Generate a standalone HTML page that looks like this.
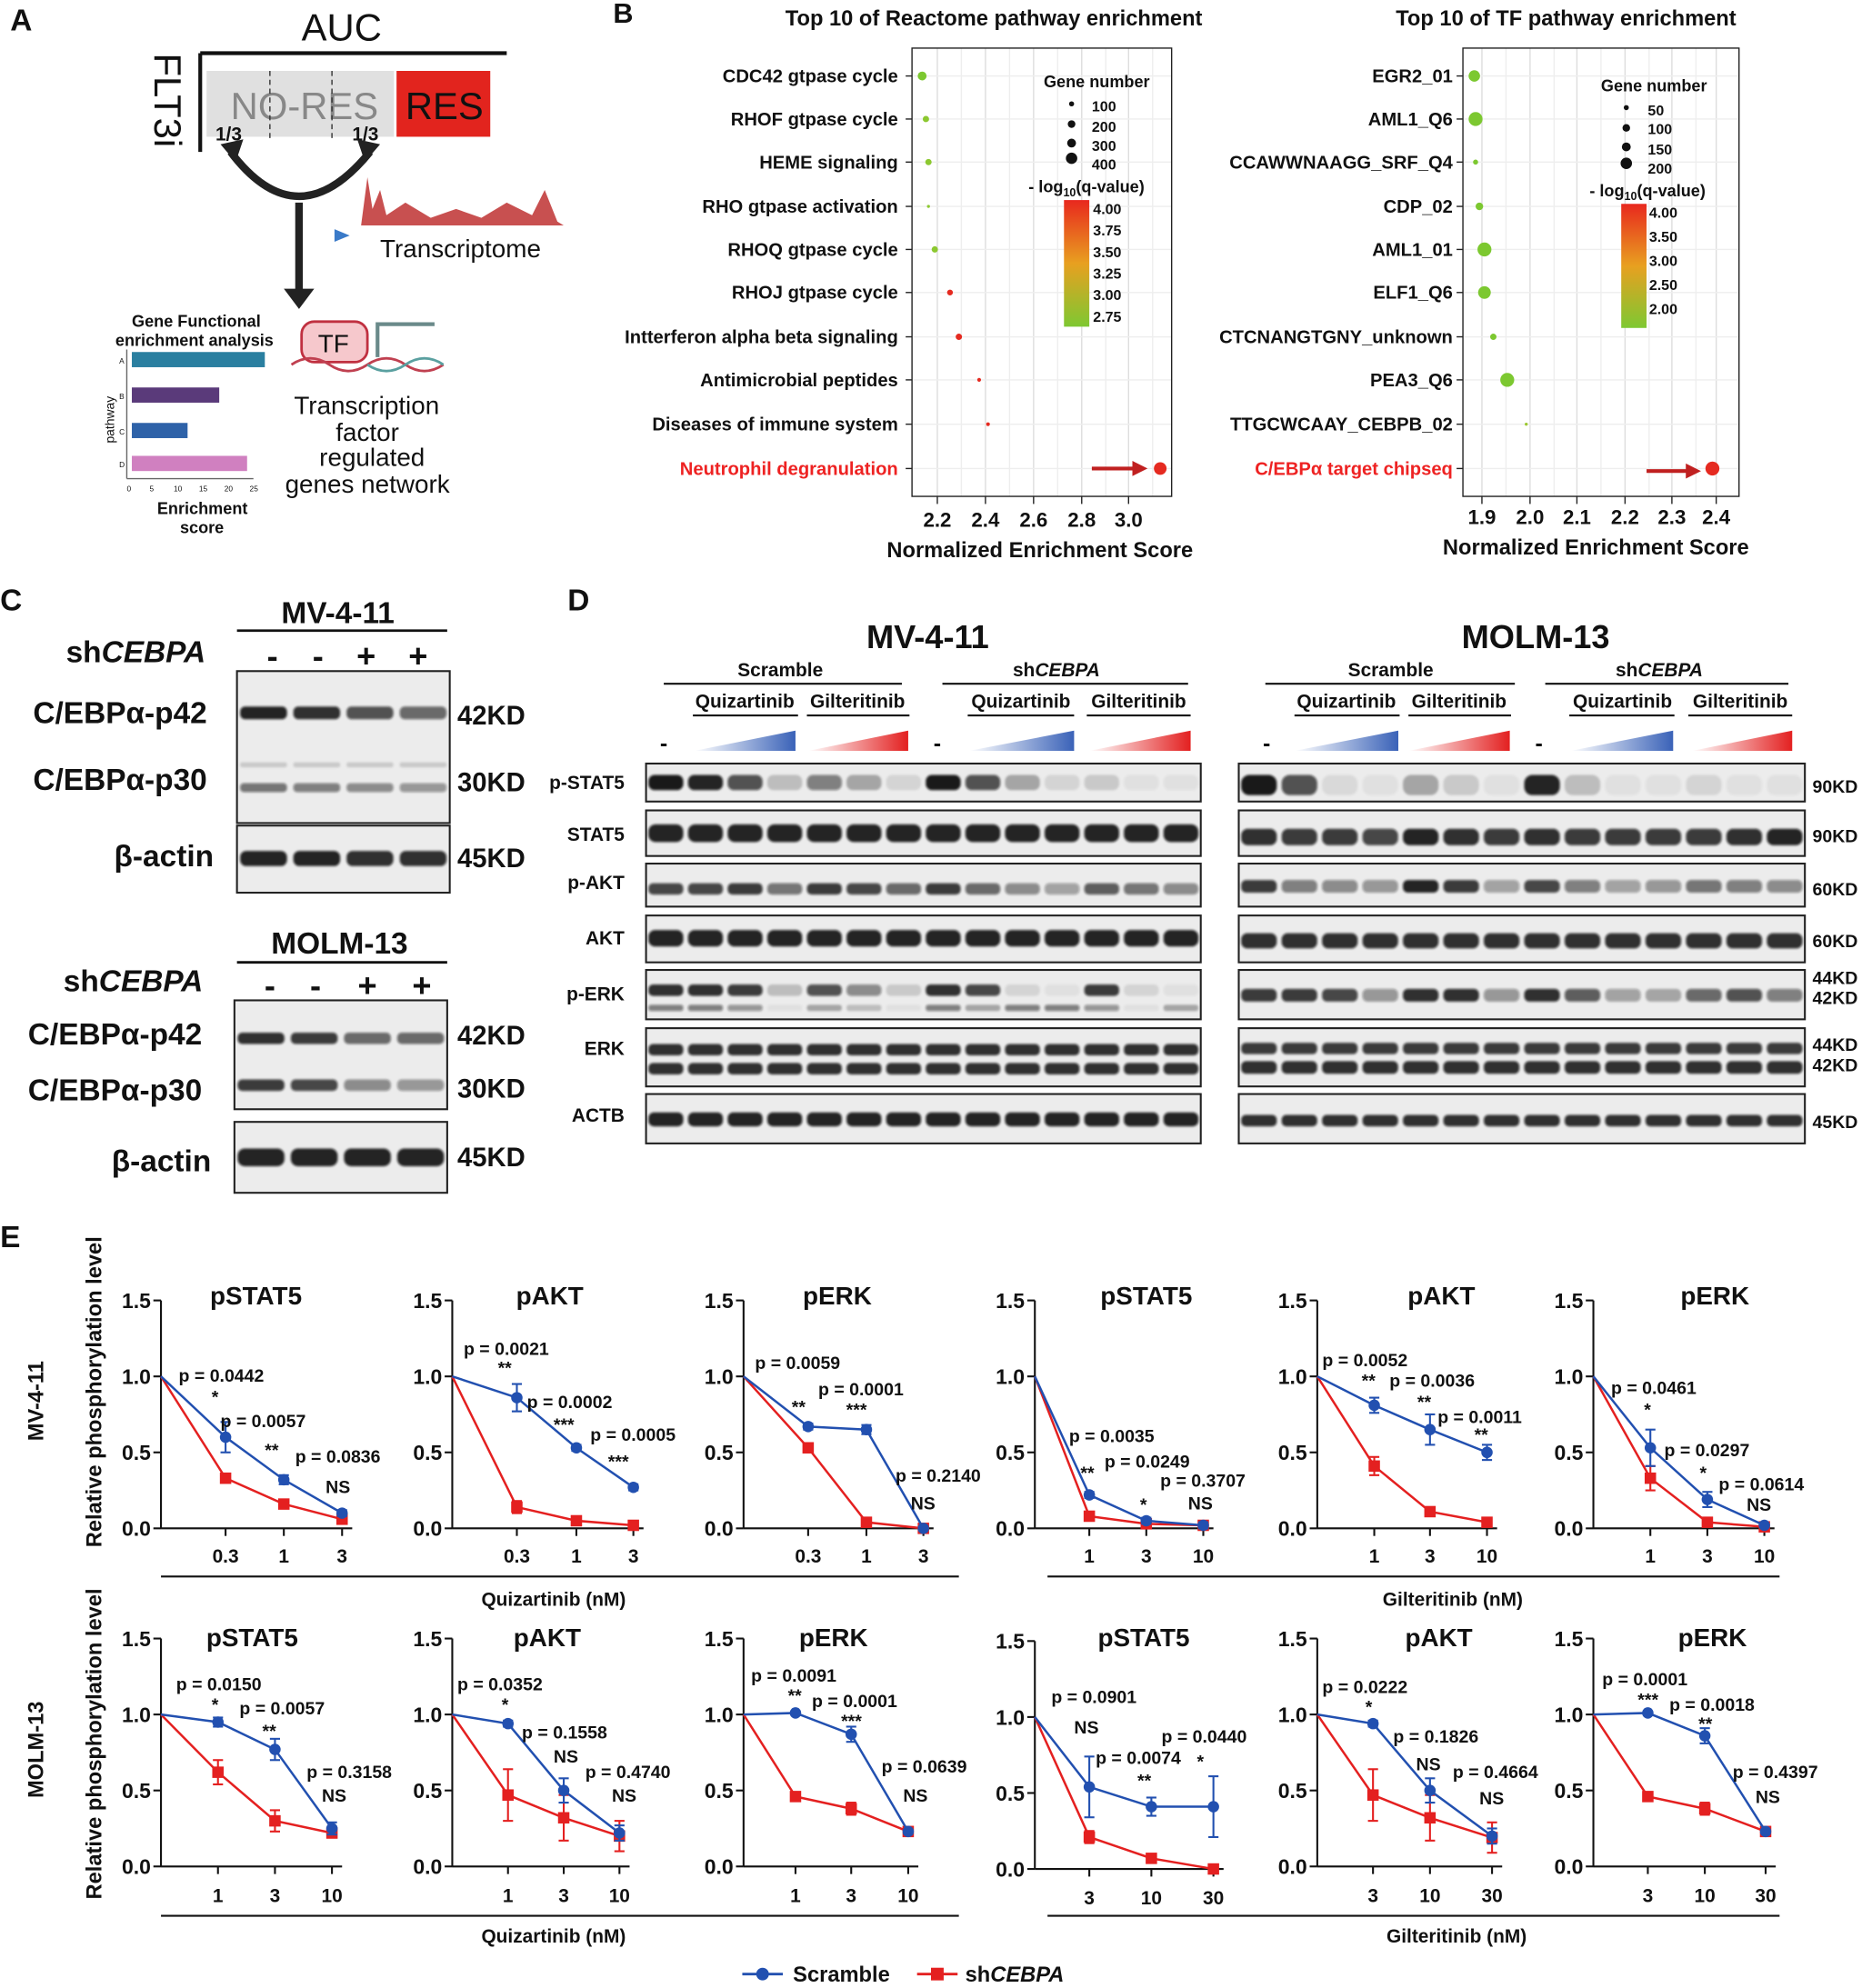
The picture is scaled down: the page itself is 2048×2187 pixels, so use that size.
<!DOCTYPE html>
<html><head><meta charset="utf-8">
<style>
html,body{margin:0;padding:0;background:#fff}
svg{display:block}
text{font-family:"Liberation Sans",Arial,sans-serif;fill:#111}
.b{font-weight:bold}
</style></head><body>
<svg id="s" xmlns="http://www.w3.org/2000/svg" width="2048" height="2187" viewBox="0 0 1470 1570">
<defs>
<linearGradient id="cg" x1="0" y1="0" x2="0" y2="1"><stop offset="0" stop-color="#e8281e"/><stop offset="0.5" stop-color="#e8a020"/><stop offset="1" stop-color="#7ec832"/></linearGradient>
<linearGradient id="blu" x1="0" x2="1"><stop offset="0" stop-color="#fff"/><stop offset="1" stop-color="#3a62b8"/></linearGradient>
<linearGradient id="red" x1="0" x2="1"><stop offset="0" stop-color="#fff"/><stop offset="1" stop-color="#e32020"/></linearGradient>
<filter id="bl" x="-10%" y="-50%" width="120%" height="200%"><feGaussianBlur stdDeviation="0.9"/></filter>
</defs>
<g id="g"></g>
<!-- Panel letters -->
<text x="8" y="24" font-size="24" class="b">A</text>
<text x="484" y="18" font-size="22" class="b">B</text>
<text x="0" y="482" font-size="24" class="b">C</text>
<text x="448" y="482" font-size="24" class="b">D</text>
<text x="0" y="985" font-size="24" class="b">E</text>

<!-- Panel A -->
<text x="238" y="32" font-size="30">AUC</text>
<line x1="158" y1="42" x2="400" y2="42" stroke="#111" stroke-width="3"/>
<line x1="158" y1="42" x2="158" y2="120" stroke="#111" stroke-width="3"/>
<text x="122" y="42" font-size="30" transform="rotate(90 122 42)">FLT3i</text>
<rect x="163" y="56" width="148" height="52" fill="#e0e0e0"/>
<rect x="313" y="56" width="74" height="52" fill="#e2241e"/>
<text x="182" y="94" font-size="30" style="fill:#888">NO-RES</text>
<text x="320" y="94" font-size="30">RES</text>
<line x1="213" y1="56" x2="213" y2="110" stroke="#333" stroke-dasharray="4,3"/>
<line x1="262" y1="56" x2="262" y2="110" stroke="#333" stroke-dasharray="4,3"/>
<text x="170" y="111" font-size="15" class="b">1/3</text>
<text x="278" y="111" font-size="15" class="b">1/3</text>
<path d="M182 120 Q235 190 292 120" fill="none" stroke="#222" stroke-width="6"/>
<path d="M174 114 l18 -4 l-6 18z M300 114 l-18 -4 l6 18z" fill="#222"/>
<line x1="236" y1="160" x2="236" y2="232" stroke="#222" stroke-width="6"/>
<path d="M224 228 l24 0 l-12 16z" fill="#222"/>
<path d="M285 178 L290 140 L294 165 L300 150 L305 170 L320 160 L340 172 L360 165 L380 172 L400 160 L420 170 L430 150 L440 175 L445 178 Z" fill="#c85050"/>
<path d="M276 186 l-12 -5 l0 10z" fill="#3a7ac8"/>
<text x="300" y="203" font-size="20">Transcriptome</text>
<text x="104" y="258" font-size="13" class="b">Gene Functional</text>
<text x="91" y="273" font-size="13" class="b">enrichment analysis</text>
<line x1="100" y1="276" x2="100" y2="378" stroke="#666"/>
<line x1="100" y1="378" x2="200" y2="378" stroke="#666"/>
<rect x="104" y="278" width="105" height="12" fill="#2a7fa0"/>
<rect x="104" y="306" width="69" height="12" fill="#5a3a7a"/>
<rect x="104" y="334" width="44" height="12" fill="#2e62a8"/>
<rect x="104" y="360" width="91" height="12" fill="#d080c0"/>
<g font-size="6" style="fill:#666"><text x="94" y="287">A</text><text x="94" y="315">B</text><text x="94" y="343">C</text><text x="94" y="369">D</text>
<text x="100" y="388">0</text><text x="118" y="388">5</text><text x="137" y="388">10</text><text x="157" y="388">15</text><text x="177" y="388">20</text><text x="197" y="388">25</text></g>
<text x="90" y="350" font-size="10" transform="rotate(-90 90 350)">pathway</text>
<text x="124" y="406" font-size="13" class="b">Enrichment</text>
<text x="142" y="421" font-size="13" class="b">score</text>
<rect x="238" y="254" width="52" height="32" rx="10" fill="#f6c8cc" stroke="#c03040" stroke-width="2"/>
<text x="251" y="278" font-size="20">TF</text>
<path d="M230 288 q15 -10 30 0 t30 0 t30 0 t30 0" fill="none" stroke="#c04050" stroke-width="2"/>
<path d="M290 288 q15 10 30 0 t30 0" fill="none" stroke="#5aa0a0" stroke-width="2"/>
<path d="M298 282 l0 -26 l45 0" fill="none" stroke="#6a8a8a" stroke-width="3"/>
<text x="232" y="327" font-size="20">Transcription</text>
<text x="265" y="348" font-size="20">factor</text>
<text x="252" y="368" font-size="20">regulated</text>
<text x="225" y="389" font-size="20">genes network</text>

<!-- Panel B left -->
<text x="620" y="20" font-size="17" class="b">Top 10 of Reactome pathway enrichment</text>
<rect x="720" y="38" width="205" height="354" fill="none" stroke="#222"/>
<g font-size="14.5" class="b" text-anchor="end">
<text x="709" y="65">CDC42 gtpase cycle</text>
<text x="709" y="99">RHOF gtpase cycle</text>
<text x="709" y="133">HEME signaling</text>
<text x="709" y="168">RHO gtpase activation</text>
<text x="709" y="202">RHOQ gtpase cycle</text>
<text x="709" y="236">RHOJ gtpase cycle</text>
<text x="709" y="271">Intterferon alpha beta signaling</text>
<text x="709" y="305">Antimicrobial peptides</text>
<text x="709" y="340">Diseases of immune system</text>
<text x="709" y="375" style="fill:#e22">Neutrophil degranulation</text>
</g>
<g font-size="16" class="b" text-anchor="middle">
<text x="740" y="416">2.2</text><text x="778" y="416">2.4</text><text x="816" y="416">2.6</text><text x="854" y="416">2.8</text><text x="891" y="416">3.0</text>
</g>
<text x="821" y="440" font-size="17" class="b" text-anchor="middle">Normalized Enrichment Score</text>
<text x="824" y="69" font-size="13" class="b">Gene number</text>
<g font-size="11.5" class="b"><text x="862" y="88">100</text><text x="862" y="104">200</text><text x="862" y="119">300</text><text x="862" y="134">400</text></g>
<text x="812" y="152" font-size="13" class="b">- log<tspan font-size="9" dy="3">10</tspan><tspan dy="-3">(q-value)</tspan></text>
<rect x="840" y="158" width="20" height="100" fill="url(#cg)"/>
<g font-size="11.5" class="b"><text x="863" y="169">4.00</text><text x="863" y="186">3.75</text><text x="863" y="203">3.50</text><text x="863" y="220">3.25</text><text x="863" y="237">3.00</text><text x="863" y="254">2.75</text></g>

<!-- Panel B right -->
<text x="1102" y="20" font-size="17" class="b">Top 10 of TF pathway enrichment</text>
<rect x="1155" y="38" width="218" height="354" fill="none" stroke="#222"/>
<g font-size="14.5" class="b" text-anchor="end">
<text x="1147" y="65">EGR2_01</text>
<text x="1147" y="99">AML1_Q6</text>
<text x="1147" y="133">CCAWWNAAGG_SRF_Q4</text>
<text x="1147" y="168">CDP_02</text>
<text x="1147" y="202">AML1_01</text>
<text x="1147" y="236">ELF1_Q6</text>
<text x="1147" y="271">CTCNANGTGNY_unknown</text>
<text x="1147" y="305">PEA3_Q6</text>
<text x="1147" y="340">TTGCWCAAY_CEBPB_02</text>
<text x="1147" y="375" style="fill:#e22">C/EBPα target chipseq</text>
</g>
<g font-size="16" class="b" text-anchor="middle">
<text x="1170" y="414">1.9</text><text x="1208" y="414">2.0</text><text x="1245" y="414">2.1</text><text x="1283" y="414">2.2</text><text x="1320" y="414">2.3</text><text x="1355" y="414">2.4</text>
</g>
<text x="1260" y="438" font-size="17" class="b" text-anchor="middle">Normalized Enrichment Score</text>
<text x="1264" y="72" font-size="13" class="b">Gene number</text>
<g font-size="11.5" class="b"><text x="1301" y="91">50</text><text x="1301" y="106">100</text><text x="1301" y="122">150</text><text x="1301" y="137">200</text></g>
<text x="1255" y="155" font-size="13" class="b">- log<tspan font-size="9" dy="3">10</tspan><tspan dy="-3">(q-value)</tspan></text>
<rect x="1280" y="161" width="20" height="98" fill="url(#cg)"/>
<g font-size="11.5" class="b"><text x="1302" y="172">4.00</text><text x="1302" y="191">3.50</text><text x="1302" y="210">3.00</text><text x="1302" y="229">2.50</text><text x="1302" y="248">2.00</text></g>

<!-- Panel C -->
<text x="222" y="492" font-size="24" class="b">MV-4-11</text>
<line x1="187" y1="498" x2="353" y2="498" stroke="#111" stroke-width="2"/>
<text x="52" y="523" font-size="24" class="b">sh<tspan font-style="italic">CEBPA</tspan></text>
<g font-size="26" class="b" text-anchor="middle"><text x="215" y="527">-</text><text x="251" y="527">-</text><text x="289" y="527">+</text><text x="330" y="527">+</text></g>
<text x="26" y="571" font-size="24" class="b">C/EBPα-p42</text>
<text x="26" y="624" font-size="24" class="b">C/EBPα-p30</text>
<text x="90" y="684" font-size="24" class="b">β-actin</text>
<g font-size="21" class="b"><text x="361" y="572">42KD</text><text x="361" y="625">30KD</text><text x="361" y="685">45KD</text>
<text x="361" y="825">42KD</text><text x="361" y="867">30KD</text><text x="361" y="921">45KD</text></g>
<text x="214" y="753" font-size="24" class="b">MOLM-13</text>
<line x1="187" y1="760" x2="353" y2="760" stroke="#111" stroke-width="2"/>
<text x="50" y="783" font-size="24" class="b">sh<tspan font-style="italic">CEBPA</tspan></text>
<g font-size="26" class="b" text-anchor="middle"><text x="213" y="787">-</text><text x="249" y="787">-</text><text x="290" y="787">+</text><text x="333" y="787">+</text></g>
<text x="22" y="825" font-size="24" class="b">C/EBPα-p42</text>
<text x="22" y="869" font-size="24" class="b">C/EBPα-p30</text>
<text x="88" y="925" font-size="24" class="b">β-actin</text>

<!-- Panel D -->
<text x="684" y="512" font-size="26" class="b">MV-4-11</text>
<text x="1154" y="512" font-size="26" class="b">MOLM-13</text>
<g font-size="15" class="b" text-anchor="middle">
<text x="616" y="534">Scramble</text><text x="834" y="534">sh<tspan font-style="italic">CEBPA</tspan></text>
<text x="588" y="559">Quizartinib</text><text x="677" y="559">Gilteritinib</text>
<text x="806" y="559">Quizartinib</text><text x="899" y="559">Gilteritinib</text>
<text x="1098" y="534">Scramble</text><text x="1310" y="534">sh<tspan font-style="italic">CEBPA</tspan></text>
<text x="1063" y="559">Quizartinib</text><text x="1152" y="559">Gilteritinib</text>
<text x="1281" y="559">Quizartinib</text><text x="1374" y="559">Gilteritinib</text>
</g>
<g stroke="#111" stroke-width="1.5">
<line x1="524" y1="540" x2="712" y2="540"/><line x1="744" y1="540" x2="938" y2="540"/>
<line x1="547" y1="565" x2="630" y2="565"/><line x1="637" y1="565" x2="718" y2="565"/>
<line x1="764" y1="565" x2="848" y2="565"/><line x1="858" y1="565" x2="940" y2="565"/>
<line x1="999" y1="540" x2="1196" y2="540"/><line x1="1220" y1="540" x2="1412" y2="540"/>
<line x1="1022" y1="565" x2="1105" y2="565"/><line x1="1112" y1="565" x2="1193" y2="565"/>
<line x1="1239" y1="565" x2="1322" y2="565"/><line x1="1333" y1="565" x2="1415" y2="565"/>
</g>
<g fill="#111" font-size="18" class="b" text-anchor="middle"><text x="524" y="593">-</text><text x="740" y="593">-</text><text x="1000" y="593">-</text><text x="1215" y="593">-</text></g>
<polygon points="548,593 628,577 628,593" fill="url(#blu)"/>
<polygon points="638,593 717,577 717,593" fill="url(#red)"/>
<polygon points="765,593 848,577 848,593" fill="url(#blu)"/>
<polygon points="860,593 940,577 940,593" fill="url(#red)"/>
<polygon points="1022,593 1104,577 1104,593" fill="url(#blu)"/>
<polygon points="1112,593 1192,577 1192,593" fill="url(#red)"/>
<polygon points="1240,593 1321,577 1321,593" fill="url(#blu)"/>
<polygon points="1336,593 1415,577 1415,593" fill="url(#red)"/>
<g font-size="15" class="b" text-anchor="end">
<text x="493" y="623">p-STAT5</text><text x="493" y="664">STAT5</text><text x="493" y="702">p-AKT</text>
<text x="493" y="746">AKT</text><text x="493" y="790">p-ERK</text><text x="493" y="833">ERK</text><text x="493" y="886">ACTB</text>
</g>
<g font-size="14" class="b">
<text x="1431" y="626">90KD</text><text x="1431" y="665">90KD</text><text x="1431" y="707">60KD</text><text x="1431" y="748">60KD</text>
<text x="1431" y="777">44KD</text><text x="1431" y="793">42KD</text><text x="1431" y="830">44KD</text><text x="1431" y="846">42KD</text><text x="1431" y="891">45KD</text>
</g>

<!-- Panel E text -->
<text x="80" y="1222" font-size="17" class="b" transform="rotate(-90 80 1222)">Relative  phosphorylation level</text>
<text x="80" y="1500" font-size="17" class="b" transform="rotate(-90 80 1500)">Relative  phosphorylation level</text>
<text x="34" y="1138" font-size="17" class="b" transform="rotate(-90 34 1138)">MV-4-11</text>
<text x="34" y="1420" font-size="17" class="b" transform="rotate(-90 34 1420)">MOLM-13</text>
<g font-size="15" class="b" text-anchor="middle">
<text x="437" y="1268">Quizartinib (nM)</text><text x="1147" y="1268">Gilteritinib (nM)</text>
<text x="437" y="1534">Quizartinib (nM)</text><text x="1150" y="1534">Gilteritinib (nM)</text>
</g>
<g stroke="#111" stroke-width="1.5"><line x1="127" y1="1245" x2="757" y2="1245"/><line x1="827" y1="1245" x2="1405" y2="1245"/>
<line x1="127" y1="1513" x2="757" y2="1513"/><line x1="827" y1="1513" x2="1405" y2="1513"/></g>
<g font-size="20" class="b" text-anchor="middle">
<text x="202" y="1030">pSTAT5</text><text x="434" y="1030">pAKT</text><text x="661" y="1030">pERK</text>
<text x="905" y="1030">pSTAT5</text><text x="1138" y="1030">pAKT</text><text x="1354" y="1030">pERK</text>
<text x="199" y="1300">pSTAT5</text><text x="432" y="1300">pAKT</text><text x="658" y="1300">pERK</text>
<text x="903" y="1300">pSTAT5</text><text x="1136" y="1300">pAKT</text><text x="1352" y="1300">pERK</text>
</g>
<g font-size="16.5" class="b" text-anchor="end" id="ylab"></g>
<g font-size="15" class="b" text-anchor="middle">
<text x="178" y="1234">0.3</text><text x="224" y="1234">1</text><text x="270" y="1234">3</text>
<text x="408" y="1234">0.3</text><text x="455" y="1234">1</text><text x="500" y="1234">3</text>
<text x="638" y="1234">0.3</text><text x="684" y="1234">1</text><text x="729" y="1234">3</text>
<text x="860" y="1234">1</text><text x="905" y="1234">3</text><text x="950" y="1234">10</text>
<text x="1085" y="1234">1</text><text x="1129" y="1234">3</text><text x="1174" y="1234">10</text>
<text x="1303" y="1234">1</text><text x="1348" y="1234">3</text><text x="1393" y="1234">10</text>
<text x="172" y="1502">1</text><text x="217" y="1502">3</text><text x="262" y="1502">10</text>
<text x="401" y="1502">1</text><text x="445" y="1502">3</text><text x="489" y="1502">10</text>
<text x="628" y="1502">1</text><text x="672" y="1502">3</text><text x="717" y="1502">10</text>
<text x="860" y="1504">3</text><text x="909" y="1504">10</text><text x="958" y="1504">30</text>
<text x="1084" y="1502">3</text><text x="1129" y="1502">10</text><text x="1178" y="1502">30</text>
<text x="1301" y="1502">3</text><text x="1346" y="1502">10</text><text x="1394" y="1502">30</text>
</g>
<g font-size="14" class="b">
<text x="141" y="1091">p = 0.0442</text><text x="167" y="1108">*</text><text x="174" y="1127">p = 0.0057</text><text x="209" y="1150">**</text><text x="233" y="1155">p = 0.0836</text><text x="257" y="1179">NS</text>
<text x="366" y="1070">p = 0.0021</text><text x="393" y="1085">**</text><text x="416" y="1112">p = 0.0002</text><text x="437" y="1130">***</text><text x="466" y="1138">p = 0.0005</text><text x="480" y="1159">***</text>
<text x="596" y="1081">p = 0.0059</text><text x="625" y="1116">**</text><text x="646" y="1102">p = 0.0001</text><text x="668" y="1118">***</text><text x="707" y="1170">p = 0.2140</text><text x="719" y="1192">NS</text>
<text x="844" y="1139">p = 0.0035</text><text x="853" y="1168">**</text><text x="872" y="1159">p = 0.0249</text><text x="900" y="1193">*</text><text x="916" y="1174">p = 0.3707</text><text x="938" y="1192">NS</text>
<text x="1044" y="1079">p = 0.0052</text><text x="1075" y="1095">**</text><text x="1097" y="1095">p = 0.0036</text><text x="1119" y="1112">**</text><text x="1135" y="1124">p = 0.0011</text><text x="1164" y="1138">**</text>
<text x="1272" y="1101">p = 0.0461</text><text x="1298" y="1118">*</text><text x="1314" y="1150">p = 0.0297</text><text x="1342" y="1168">*</text><text x="1357" y="1177">p = 0.0614</text><text x="1379" y="1193">NS</text>
<text x="139" y="1335">p = 0.0150</text><text x="167" y="1351">*</text><text x="189" y="1354">p = 0.0057</text><text x="207" y="1372">**</text><text x="242" y="1404">p = 0.3158</text><text x="254" y="1423">NS</text>
<text x="361" y="1335">p = 0.0352</text><text x="396" y="1351">*</text><text x="412" y="1373">p = 0.1558</text><text x="437" y="1392">NS</text><text x="462" y="1404">p = 0.4740</text><text x="483" y="1423">NS</text>
<text x="593" y="1328">p = 0.0091</text><text x="622" y="1344">**</text><text x="641" y="1348">p = 0.0001</text><text x="664" y="1364">***</text><text x="696" y="1400">p = 0.0639</text><text x="713" y="1423">NS</text>
<text x="830" y="1345">p = 0.0901</text><text x="848" y="1369">NS</text><text x="865" y="1393">p = 0.0074</text><text x="898" y="1411">**</text><text x="917" y="1376">p = 0.0440</text><text x="945" y="1396">*</text>
<text x="1044" y="1337">p = 0.0222</text><text x="1078" y="1353">*</text><text x="1100" y="1376">p = 0.1826</text><text x="1118" y="1398">NS</text><text x="1147" y="1404">p = 0.4664</text><text x="1168" y="1425">NS</text>
<text x="1265" y="1331">p = 0.0001</text><text x="1293" y="1347">***</text><text x="1318" y="1351">p = 0.0018</text><text x="1341" y="1366">**</text><text x="1368" y="1404">p = 0.4397</text><text x="1386" y="1424">NS</text>
</g>
<line x1="586" y1="1559" x2="618" y2="1559" stroke="#2250b0" stroke-width="2"/><circle cx="602" cy="1559" r="5" fill="#2250b0"/>
<text x="626" y="1565" font-size="17" class="b">Scramble</text>
<line x1="724" y1="1559" x2="756" y2="1559" stroke="#e42020" stroke-width="2"/><rect x="735" y="1554" width="10" height="10" fill="#e42020"/>
<text x="762" y="1565" font-size="17" class="b">sh<tspan font-style="italic">CEBPA</tspan></text>
</svg>
<script>
(function(){
var NS="http://www.w3.org/2000/svg",g=document.getElementById("g");
function el(t,a,p){var e=document.createElementNS(NS,t);for(var k in a)e.setAttribute(k,a[k]);(p||g).appendChild(e);return e;}
function bp(x0,x1,ticks,xs,sizes,cols){
  var st=ticks[1]-ticks[0];
  for(var i=0;i<ticks.length;i++){el("line",{x1:ticks[i],y1:38,x2:ticks[i],y2:392,stroke:"#ddd"});
   if(ticks[i]+st/2<x1)el("line",{x1:ticks[i]+st/2,y1:38,x2:ticks[i]+st/2,y2:392,stroke:"#eee"});
   el("line",{x1:ticks[i],y1:392,x2:ticks[i],y2:398,stroke:"#222"});}
  var ys=[60,94,128,163,197,231,266,300,335,370];
  for(i=0;i<10;i++){el("line",{x1:x0,y1:ys[i],x2:x1,y2:ys[i],stroke:"#eee"});el("line",{x1:x0-5,y1:ys[i],x2:x0,y2:ys[i],stroke:"#222"});
   el("circle",{cx:xs[i],cy:ys[i],r:sizes[i],fill:cols[i]});}
}
bp(720,925,[740,778,816,854,891],[728,731,733,733,738,750,757,773,780,916],[3.5,2.5,2.5,1.2,2.5,2.3,2.5,1.5,1.5,5],
 ["#7cc830","#8cc830","#8cc830","#8cc830","#8cc830","#e52a20","#e52a20","#e52a20","#e52a20","#e52a20"]);
bp(1155,1373,[1170,1208,1245,1283,1320,1355],[1164,1165,1165,1168,1172,1172,1179,1190,1205,1352],[4.5,5.5,2,3,5.5,5,2.5,5.5,1.2,5.5],
 ["#7cc830","#7cc830","#7cc830","#7cc830","#7cc830","#7cc830","#7cc830","#7cc830","#9cc830","#e52a20"]);
[[846,82,2],[846,98,3],[846,113,3.5],[846,125,4.5],[1284,85,2],[1284,101,3],[1284,116,3.5],[1284,129,4.5]].forEach(function(c){el("circle",{cx:c[0],cy:c[1],r:c[2],fill:"#111"});});
[[862,370,900,370],[1300,372,1337,372]].forEach(function(a){el("line",{x1:a[0],y1:a[1],x2:a[2],y2:a[3],stroke:"#c02020","stroke-width":3});
 el("path",{d:"M"+(a[2]+6)+" "+a[3]+" l-12 -6 l0 12z",fill:"#c02020"});});
function blot(x,y,w,h,n,bands){
  el("rect",{x:x,y:y,width:w,height:h,fill:"#ececec",stroke:"#222","stroke-width":1.5});
  var lw=w/n,gg=el("g",{filter:"url(#bl)"});
  bands.forEach(function(b){
    for(var i=0;i<n;i++){var v=b.v[i%b.v.length];if(v<=0.03)continue;
      el("rect",{x:x+i*lw+lw*0.06,y:y+b.y-b.t/2,width:lw*0.88,height:b.t,rx:b.t/2.5,fill:"#111","fill-opacity":v},gg);}
  });
}
blot(187,530,168,120,4,[{y:33,t:10,v:[.9,.85,.7,.6]},{y:92,t:7,v:[.55,.5,.45,.4]},{y:74,t:4,v:[.15]}]);
blot(187,652,168,53,4,[{y:26,t:12,v:[.9,.9,.85,.85]}]);
blot(185,790,168,86,4,[{y:30,t:9,v:[.85,.8,.6,.6]},{y:67,t:9,v:[.8,.75,.45,.4]}]);
blot(185,886,168,56,4,[{y:28,t:14,v:[.9,.9,.9,.9]}]);
var rowsY=[[603,30],[640,36],[682,34],[723,37],[766,39],[812,46],[864,39]];
var L=[
 [{y:15,t:12,v:[.95,.9,.7,.2,.5,.3,.1,.95,.7,.3,.1,.15,.05,.05]}],
 [{y:18,t:14,v:[.9]}],
 [{y:20,t:9,v:[.75,.75,.8,.55,.8,.75,.6,.8,.6,.45,.35,.65,.55,.45]}],
 [{y:18,t:13,v:[.9]}],
 [{y:16,t:9,v:[.85,.85,.8,.2,.7,.45,.15,.85,.75,.1,.05,.8,.1,.05]},{y:30,t:5,v:[.5,.5,.4,.05,.3,.2,.05,.5,.3]}],
 [{y:17,t:9,v:[.85]},{y:32,t:9,v:[.85]}],
 [{y:20,t:11,v:[.9]}]
];
var R=[
 [{y:17,t:16,v:[.95,.7,.08,.05,.3,.15,.05,.9,.2,.05,.05,.1,.05,.05]}],
 [{y:21,t:13,v:[.85,.8,.8,.75,.9,.85,.8,.85,.8,.8,.8,.8,.85,.9]}],
 [{y:18,t:10,v:[.8,.5,.45,.4,.9,.8,.35,.75,.5,.35,.4,.55,.5,.45]}],
 [{y:20,t:12,v:[.85]}],
 [{y:20,t:10,v:[.8,.8,.75,.4,.85,.85,.4,.85,.65,.35,.3,.6,.7,.5]}],
 [{y:16,t:9,v:[.8]},{y:31,t:10,v:[.85]}],
 [{y:21,t:9,v:[.85]}]
];
for(var r=0;r<7;r++){blot(510,rowsY[r][0],438,rowsY[r][1],14,L[r]);blot(978,rowsY[r][0],447,rowsY[r][1],14,R[r]);}
var ylab=document.getElementById("ylab");
function plot(ax,y0,ty,pts,blue,red,eb,er){
  var s=120;
  function Y(v){return y0-v*s;}
  el("line",{x1:ax,y1:Y(1.5),x2:ax,y2:Y(0),stroke:"#111","stroke-width":1.5});
  el("line",{x1:ax,y1:Y(0),x2:pts[2]+8,y2:Y(0),stroke:"#111","stroke-width":1.5});
  [0,.5,1,1.5].forEach(function(v){el("line",{x1:ax-6,y1:Y(v),x2:ax,y2:Y(v),stroke:"#111","stroke-width":1.5});});
  pts.forEach(function(p){el("line",{x1:p,y1:Y(0),x2:p,y2:Y(0)+6,stroke:"#111","stroke-width":1.5});});
  function ser(vals,c,sq,e){
    var xs=[ax].concat(pts),vs=[1].concat(vals),d="";
    for(var i=0;i<4;i++)d+=(i?"L":"M")+xs[i]+" "+Y(vs[i]);
    el("path",{d:d,fill:"none",stroke:c,"stroke-width":1.8});
    for(i=1;i<4;i++){var ee=e[i-1];if(ee){el("line",{x1:xs[i],y1:Y(vs[i]+ee),x2:xs[i],y2:Y(vs[i]-ee),stroke:c,"stroke-width":1.5});
      el("line",{x1:xs[i]-4,y1:Y(vs[i]+ee),x2:xs[i]+4,y2:Y(vs[i]+ee),stroke:c,"stroke-width":1.5});el("line",{x1:xs[i]-4,y1:Y(vs[i]-ee),x2:xs[i]+4,y2:Y(vs[i]-ee),stroke:c,"stroke-width":1.5});}
     if(sq)el("rect",{x:xs[i]-4.5,y:Y(vs[i])-4.5,width:9,height:9,fill:c});else el("circle",{cx:xs[i],cy:Y(vs[i]),r:4.5,fill:c});}
  }
  ser(red,"#e42020",1,er||[.02,.02,.02]);
  ser(blue,"#2250b0",0,eb||[.02,.02,.02]);
  ["0.0","0.5","1.0","1.5"].forEach(function(t,i){var tx=document.createElementNS(NS,"text");tx.setAttribute("x",ax-8);tx.setAttribute("y",Y(i*.5)+6);tx.textContent=t;ylab.appendChild(tx);});
}
var y1=1207,y2=1474;
plot(127,y1,0,[178,224,270],[.6,.32,.1],[.33,.16,.06],[.1,.03,.02],[.03,.02,.02]);
plot(357,y1,0,[408,455,500],[.86,.53,.27],[.14,.05,.02],[.09,.02,.02],[.04,.02,.01]);
plot(587,y1,0,[638,684,729],[.67,.65,0],[.53,.04,0],[.02,.03,.01],[.02,.01,.01]);
plot(817,y1,0,[860,905,950],[.22,.05,.02],[.08,.03,.02]);
plot(1040,y1,0,[1085,1129,1174],[.81,.65,.5],[.41,.11,.04],[.05,.1,.05],[.06,.02,.02]);
plot(1258,y1,0,[1303,1348,1393],[.53,.19,.02],[.33,.04,.01],[.12,.05,.01],[.08,.02,.01]);
plot(127,y2,0,[172,217,262],[.95,.77,.25],[.62,.30,.22],[.03,.07,.04],[.08,.07,.03]);
plot(357,y2,0,[401,445,489],[.94,.50,.22],[.47,.32,.20],[.02,.08,.05],[.17,.15,.1]);
plot(587,y2,0,[628,672,717],[1.01,.87,.23],[.46,.38,.23],[.01,.05,.01],[.02,.04,.01]);
plot(817,y2+2,0,[860,909,958],[.54,.41,.41],[.21,.07,0],[.2,.06,.2],[.04,.02,.01]);
plot(1040,y2,0,[1084,1129,1178],[.94,.50,.20],[.47,.32,.19],[.02,.08,.05],[.17,.15,.1]);
plot(1258,y2,0,[1301,1346,1394],[1.01,.86,.23],[.46,.38,.23],[.01,.05,.01],[.02,.04,.01]);
})();
</script>
</body></html>
